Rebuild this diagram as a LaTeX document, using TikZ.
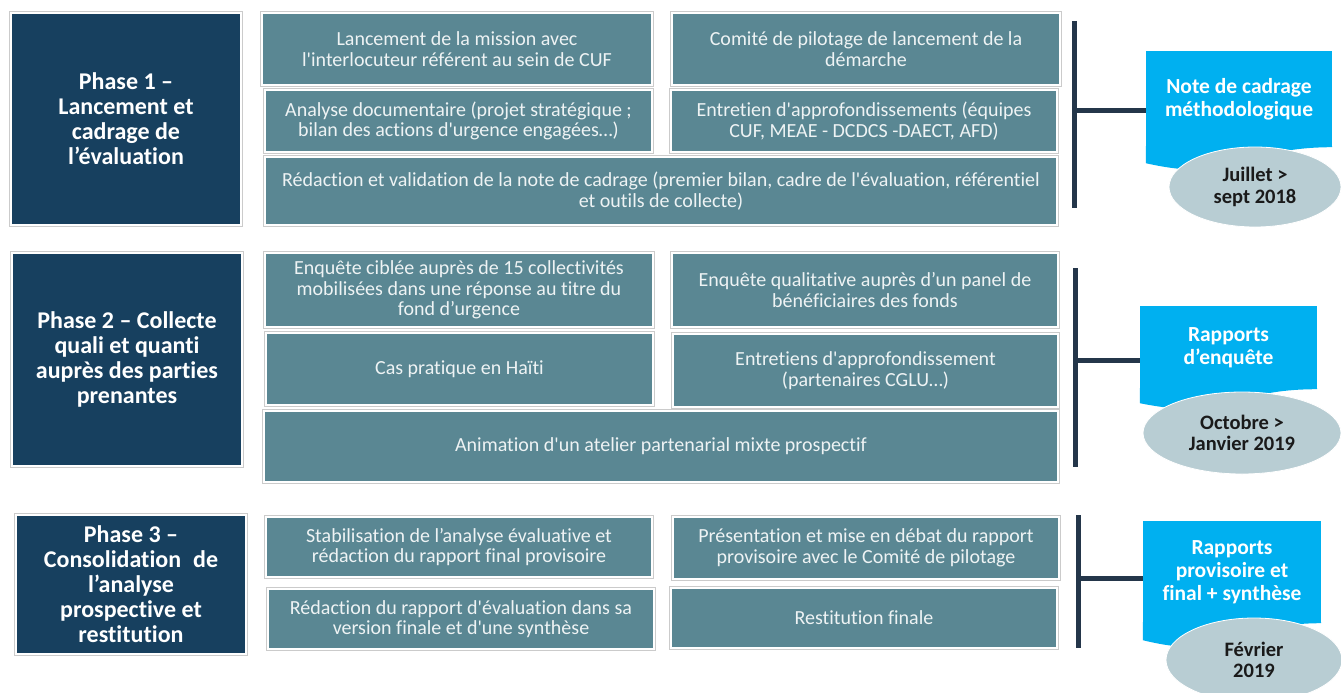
\documentclass[tikz,border=0pt]{standalone}
\usepackage{fontspec}
\setmainfont{Carlito}[Ligatures=NoCommon]
\usetikzlibrary{shapes.geometric,calc}
\definecolor{phaseblue}{HTML}{17405F}
\definecolor{taskteal}{HTML}{5A8793}
\definecolor{tasktext}{HTML}{EEF3F4}
\definecolor{notecyan}{HTML}{00B0F0}
\definecolor{dateoval}{HTML}{B8CDD3}
\definecolor{barnavy}{HTML}{24364A}
\definecolor{edgegray}{HTML}{CBCBCB}
\definecolor{datetext}{HTML}{1A1A1A}
\newcommand{\sqt}{\textquotesingle}
\begin{document}
\begin{tikzpicture}[x=1pt,y=-1pt,
  framed/.style={preaction={draw=edgegray,line width=3.4pt},draw=white,line width=1.7pt},
  phasebox/.style={rectangle,framed,fill=phaseblue,text=white,align=center,inner sep=0pt,
    font=\fontsize{24}{25}\selectfont\bfseries},
  taskbox/.style={rectangle,framed,fill=taskteal,text=tasktext,align=center,inner sep=0pt,
    font=\fontsize{20}{20.5}\selectfont},
  notebox/.style={rectangle,fill=notecyan,text=white,align=center,inner sep=0pt,
    font=\fontsize{21.5}{23}\selectfont\bfseries},
  dateoval/.style={ellipse,fill=dateoval,draw=white,line width=0.8pt,text=datetext,align=center,inner sep=0pt,
    font=\fontsize{20.5}{21.5}\selectfont\bfseries},
  bar/.style={draw=barnavy,line width=5pt}]
\useasboundingbox (0,0) rectangle (1341,693);
\fill[white] (0,0) rectangle (1341,693);

% ---------- Phase 1 ----------
\node[phasebox,minimum width=230,minimum height=212] (p1) at (126,119)
  {Phase 1 –\\Lancement et\\cadrage de\\l’évaluation};
\node[taskbox,minimum width=390,minimum height=72] (t1a) at (457,49)
  {Lancement de la mission avec\\l\sqt interlocuteur référent au sein de CUF};
\node[taskbox,minimum width=388,minimum height=72] (t1b) at (866,49)
  {Comité de pilotage de lancement de la\\démarche};
\node[taskbox,minimum width=387,minimum height=62] (t1c) at (458.5,121)
  {Analyse documentaire (projet stratégique ;\\bilan des actions d\sqt urgence engagées…)};
\node[taskbox,minimum width=386,minimum height=62] (t1d) at (864,121)
  {Entretien d\sqt approfondissements (équipes\\CUF, MEAE - DCDCS -DAECT, AFD)};
\node[taskbox,minimum width=792,minimum height=68] (t1e) at (661,191)
  {Rédaction et validation de la note de cadrage (premier bilan, cadre de l\sqt évaluation, référentiel\\et outils de collecte)};

% ---------- Phase 2 ----------
\node[phasebox,minimum width=230,minimum height=213] (p2) at (127,359.5)
  {Phase 2 – Collecte\\quali et quanti\\auprès des parties\\prenantes};
\node[taskbox,minimum width=388,minimum height=74] (t2a) at (459,290)
  {Enquête ciblée auprès de 15 collectivités\\mobilisées dans une réponse au titre du\\fond d’urgence};
\node[taskbox,minimum width=386,minimum height=74] (t2b) at (865,290)
  {Enquête qualitative auprès d’un panel de\\bénéficiaires des fonds};
\node[taskbox,minimum width=387,minimum height=72] (t2c) at (459.5,369)
  {Cas pratique en Haïti};
\node[taskbox,minimum width=385,minimum height=73] (t2d) at (865.5,370.5)
  {Entretiens d\sqt approfondissement\\(partenaires CGLU…)};
\node[taskbox,minimum width=794,minimum height=71] (t2e) at (661,446.5)
  {Animation d\sqt un atelier partenarial mixte prospectif};

% ---------- Phase 3 ----------
\node[phasebox,minimum width=230,minimum height=139] (p3) at (131,584.5)
  {Phase 3 –\\Consolidation\enspace de\\l’analyse\\prospective et\\restitution};
\node[taskbox,minimum width=386,minimum height=60] (t3a) at (459,547)
  {Stabilisation de l’analyse évaluative et\\rédaction du rapport final provisoire};
\node[taskbox,minimum width=386,minimum height=62] (t3b) at (866,548)
  {Présentation et mise en débat du rapport\\provisoire avec le Comité de pilotage};
\node[taskbox,minimum width=386,minimum height=60] (t3c) at (461,619)
  {Rédaction du rapport d\sqt évaluation dans sa\\version finale et d\sqt une synthèse};
\node[taskbox,minimum width=386,minimum height=60] (t3d) at (864,618)
  {Restitution finale};

% ---------- Deliverables (document shapes) ----------
\node[notebox,minimum width=186,minimum height=96] (n1) at (1239,99)
  {Note de cadrage\\méthodologique};
\fill[notecyan] ($(n1.south east)+(0,-1)$) -- (n1.south east)
  .. controls (n1.south) and ($(n1.south)+(0,37)$) .. ($(n1.south west)+(0,16)$)
  -- ($(n1.south west)+(0,-1)$) -- cycle;

\node[notebox,minimum width=177,minimum height=83] (n2) at (1228.5,347.5)
  {Rapports\\d’enquête};
\fill[notecyan] ($(n2.south east)+(0,-1)$) -- (n2.south east)
  .. controls (n2.south) and ($(n2.south)+(0,32)$) .. ($(n2.south west)+(0,14)$)
  -- ($(n2.south west)+(0,-1)$) -- cycle;

\node[notebox,minimum width=178,minimum height=102] (n3) at (1232,572)
  {Rapports\\provisoire et\\final + synthèse};
\fill[notecyan] ($(n3.south east)+(0,-1)$) -- (n3.south east)
  .. controls (n3.south) and ($(n3.south)+(0,39)$) .. ($(n3.south west)+(0,17)$)
  -- ($(n3.south west)+(0,-1)$) -- cycle;

% ---------- Brackets linking each phase to its deliverable ----------
\coordinate (b1top) at (1074,21);
\coordinate (b1bot) at (1074,208);
\coordinate (b1mid) at (1074,110);
\draw[bar] (b1top) -- (b1bot);
\draw[bar] (b1mid) -- (b1mid -| n1.west);

\coordinate (b2top) at (1075,268);
\coordinate (b2bot) at (1075,467);
\coordinate (b2mid) at (1075,360);
\draw[bar] (b2top) -- (b2bot);
\draw[bar] (b2mid) -- (b2mid -| n2.west);

\coordinate (b3top) at (1078,515);
\coordinate (b3bot) at (1078,648);
\coordinate (b3mid) at (1078,578);
\draw[bar] (b3top) -- (b3bot);
\draw[bar] (b3mid) -- (b3mid -| n3.west);

% ---------- Dates ----------
\node[dateoval,minimum width=172,minimum height=80] (d1) at (1255,187)
  {Juillet >\\sept 2018};
\node[dateoval,minimum width=198,minimum height=82] (d2) at (1242,433)
  {Octobre >\\Janvier 2019};
\node[dateoval,minimum width=176,minimum height=84] (d3) at (1254,660)
  {Février\\2019};
\end{tikzpicture}
\end{document}
